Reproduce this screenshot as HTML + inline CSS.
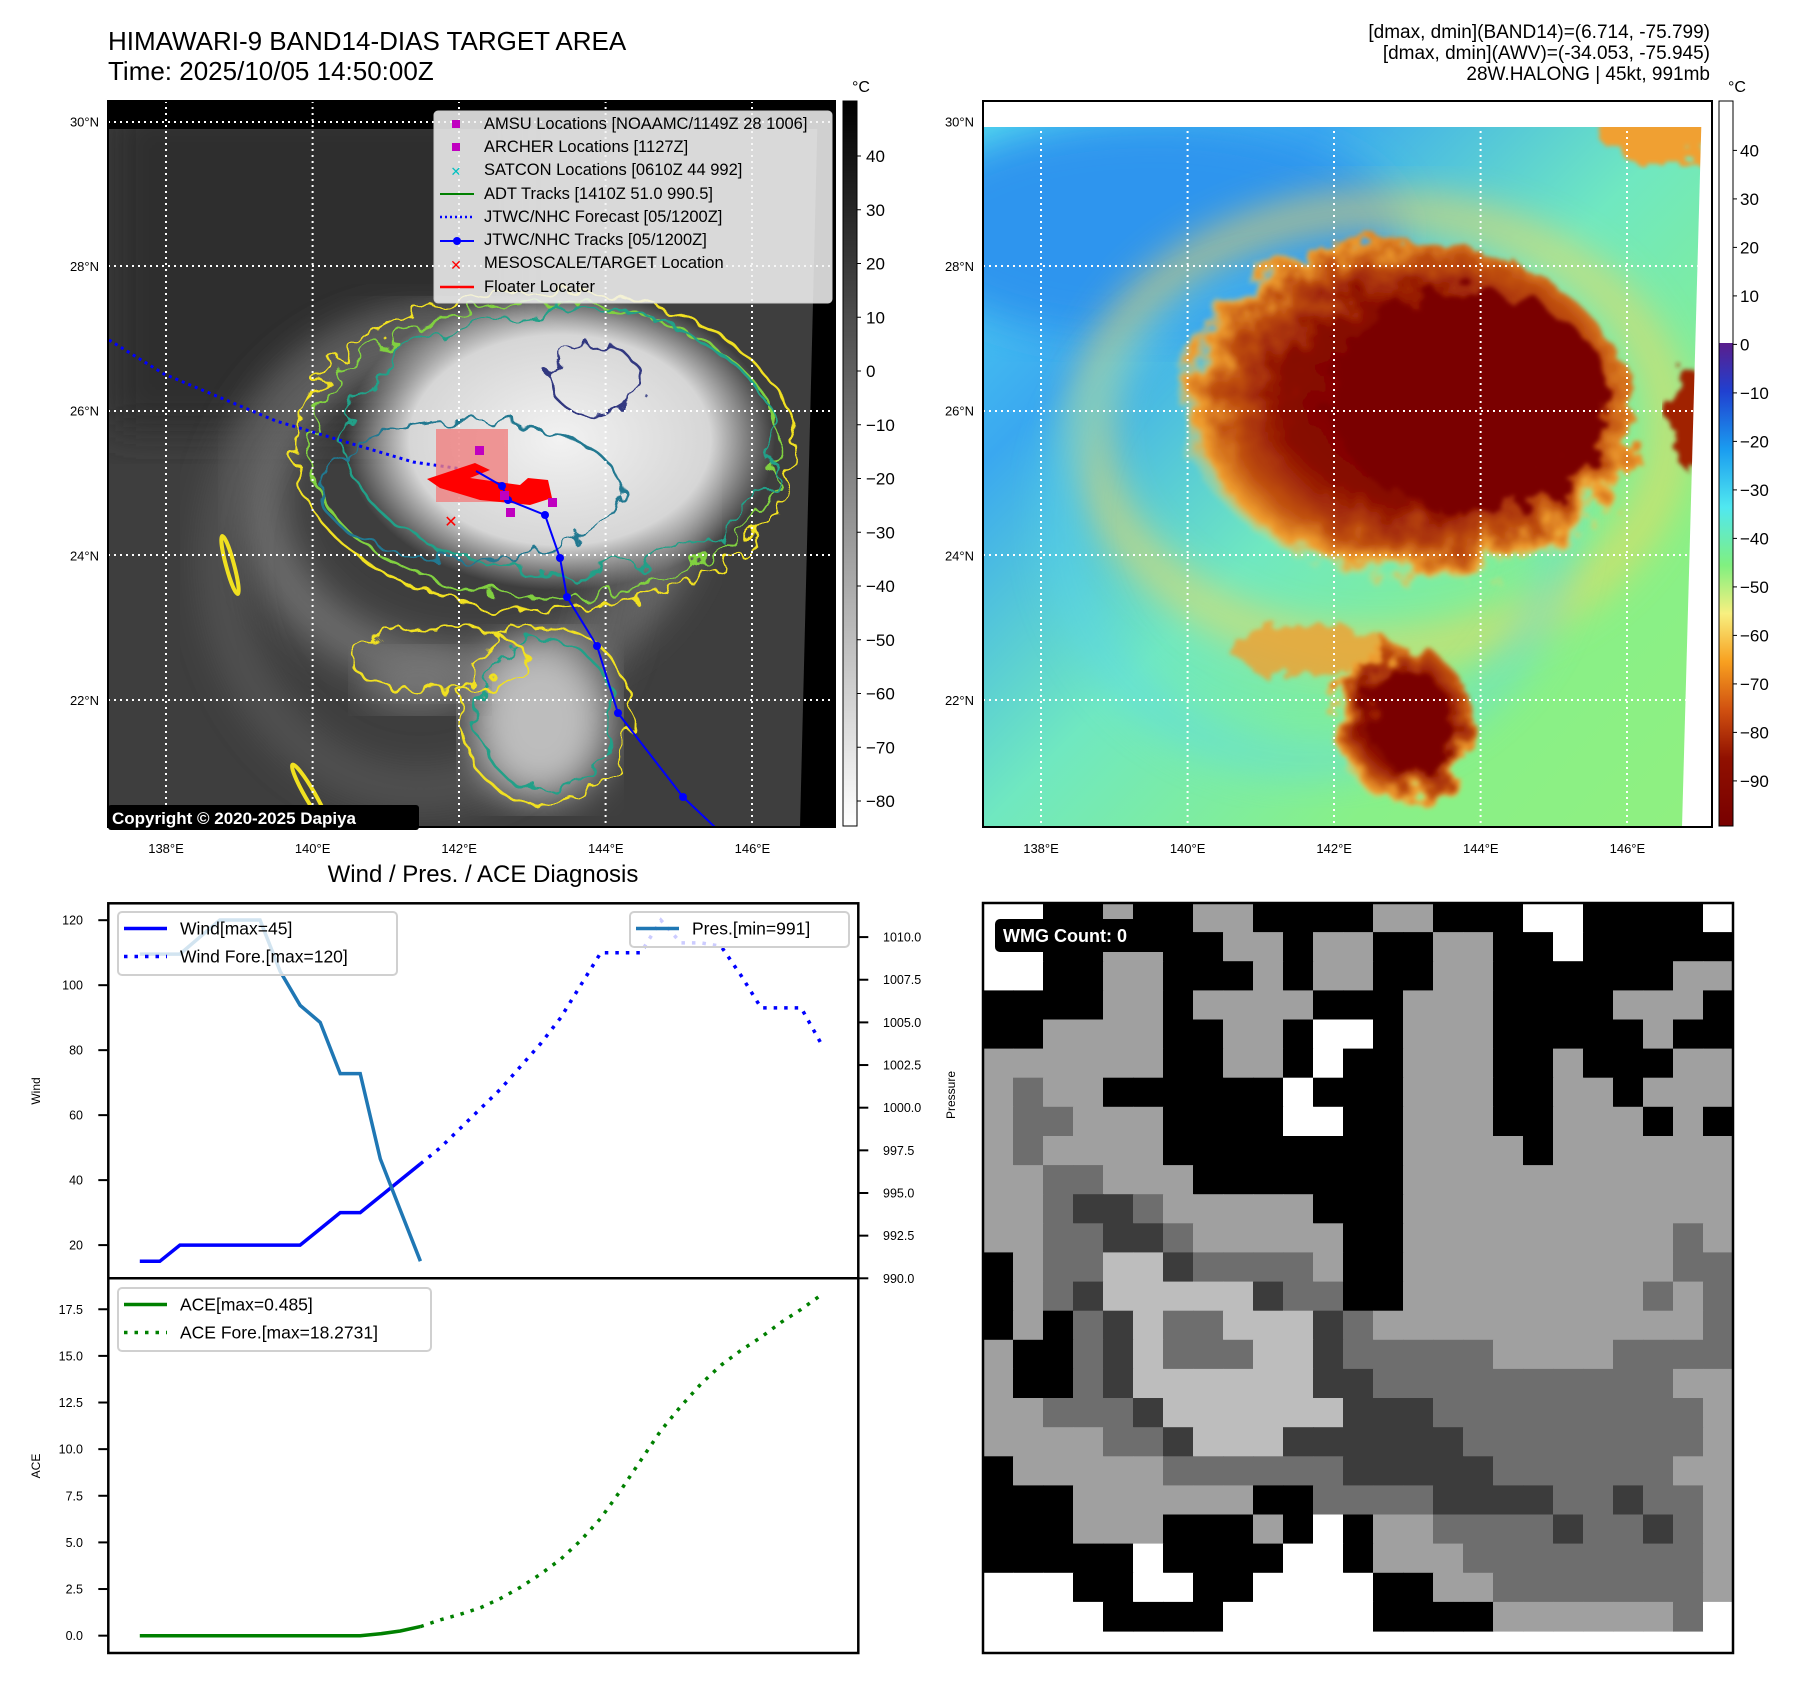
<!DOCTYPE html>
<html><head><meta charset="utf-8"><style>
body{margin:0;background:#fff;}
svg{display:block;font-family:"Liberation Sans","DejaVu Sans",sans-serif;}
</style></head><body>
<svg id="root" width="1801" height="1690" viewBox="0 0 1801 1690" xmlns="http://www.w3.org/2000/svg">
<defs>
  <filter id="blur8"><feGaussianBlur stdDeviation="8"/></filter>
  <filter id="blur20"><feGaussianBlur stdDeviation="20"/></filter>
  <filter id="wavy" x="-20%" y="-20%" width="140%" height="140%"><feTurbulence type="fractalNoise" baseFrequency="0.05" numOctaves="2" seed="3"/><feDisplacementMap in="SourceGraphic" scale="28"/></filter>
  <filter id="wavy2" x="-20%" y="-20%" width="140%" height="140%"><feTurbulence type="fractalNoise" baseFrequency="0.03" numOctaves="3" seed="7"/><feDisplacementMap in="SourceGraphic" scale="40"/></filter>
  <filter id="rough" x="-20%" y="-20%" width="140%" height="140%"><feTurbulence type="fractalNoise" baseFrequency="0.04" numOctaves="3" seed="11"/><feDisplacementMap in="SourceGraphic" scale="50"/><feGaussianBlur stdDeviation="2"/></filter>
  <linearGradient id="bwbar" x1="0" y1="0" x2="0" y2="1"><stop offset="0" stop-color="#000"/><stop offset="1" stop-color="#fff"/></linearGradient>
  <linearGradient id="jetbar" x1="0" y1="0" x2="0" y2="1">
    <stop offset="0" stop-color="#5a1e8c"/><stop offset="0.1" stop-color="#2040d0"/><stop offset="0.22" stop-color="#1a9cf0"/><stop offset="0.34" stop-color="#50e8f0"/><stop offset="0.46" stop-color="#80f080"/><stop offset="0.56" stop-color="#f8f080"/><stop offset="0.66" stop-color="#f8a020"/><stop offset="0.76" stop-color="#d05010"/><stop offset="0.86" stop-color="#901000"/><stop offset="1" stop-color="#780000"/>
  </linearGradient>
  <linearGradient id="irbg" x1="0" y1="0" x2="1" y2="1"><stop offset="0" stop-color="#55ddee"/><stop offset="0.25" stop-color="#3aa8f0"/><stop offset="0.5" stop-color="#70e8c0"/><stop offset="0.75" stop-color="#88f088"/><stop offset="1" stop-color="#90f080"/></linearGradient>
  <radialGradient id="cloudW" cx="0.5" cy="0.5" r="0.5"><stop offset="0" stop-color="#f2f2f2"/><stop offset="0.7" stop-color="#d6d6d6"/><stop offset="1" stop-color="#d0d0d0" stop-opacity="0"/></radialGradient>
  <radialGradient id="cloudR" cx="0.55" cy="0.45" r="0.5"><stop offset="0" stop-color="#7a0000"/><stop offset="0.55" stop-color="#880800"/><stop offset="0.8" stop-color="#c05010"/><stop offset="0.93" stop-color="#f0a030"/><stop offset="1" stop-color="#f8e070" stop-opacity="0"/></radialGradient>
  <clipPath id="clipL"><rect x="108" y="101" width="727" height="726"/></clipPath>
  <clipPath id="clipR"><rect x="983" y="101" width="729" height="726"/></clipPath>
</defs>

<!-- Titles -->
<text x="108" y="50" font-size="26" fill="#000">HIMAWARI-9 BAND14-DIAS TARGET AREA</text>
<text x="108" y="80" font-size="26" fill="#000">Time: 2025/10/05 14:50:00Z</text>
<g font-size="19" text-anchor="end" fill="#000">
<text x="1710" y="38">[dmax, dmin](BAND14)=(6.714, -75.799)</text>
<text x="1710" y="59">[dmax, dmin](AWV)=(-34.053, -75.945)</text>
<text x="1710" y="80">28W.HALONG | 45kt, 991mb</text>
</g>

<!-- LEFT MAP -->
<g>
<g clip-path="url(#clipL)">
  <rect x="108" y="101" width="727" height="726" fill="#3e3e3e"/>
  <rect x="108" y="101" width="400" height="330" fill="#2e2e2e" filter="url(#blur20)"/>
  <ellipse cx="470" cy="500" rx="210" ry="170" fill="none" stroke="#767676" stroke-width="40" filter="url(#blur20)"/>
  <ellipse cx="420" cy="560" rx="200" ry="230" fill="none" stroke="#5a5a5a" stroke-width="30" filter="url(#blur20)"/>
  <ellipse cx="560" cy="440" rx="215" ry="150" fill="url(#cloudW)"/>
  <ellipse cx="540" cy="720" rx="70" ry="80" fill="#bdbdbd" filter="url(#blur20)"/>
  <ellipse cx="420" cy="680" rx="60" ry="30" fill="#777" filter="url(#blur20)"/>
  <g fill="none" stroke-width="2.5">
    <ellipse cx="545" cy="450" rx="250" ry="160" stroke="#f0e020" filter="url(#wavy)"/>
    <ellipse cx="545" cy="450" rx="235" ry="148" stroke="#80d040" filter="url(#wavy)"/>
    <ellipse cx="560" cy="440" rx="215" ry="130" stroke="#20a088" filter="url(#wavy2)"/>
    <ellipse cx="470" cy="490" rx="150" ry="70" stroke="#207890" filter="url(#wavy)"/>
    <ellipse cx="595" cy="380" rx="45" ry="35" stroke="#303880" filter="url(#wavy)"/>
    <ellipse cx="545" cy="715" rx="85" ry="90" stroke="#f0e020" filter="url(#wavy)"/>
    <ellipse cx="545" cy="715" rx="68" ry="75" stroke="#20a088" filter="url(#wavy)"/>
    <ellipse cx="440" cy="660" rx="90" ry="30" stroke="#f0e020" filter="url(#wavy)"/>
    <ellipse cx="230" cy="565" rx="4" ry="30" stroke="#f0e020" stroke-width="4" transform="rotate(-15 230 565)"/>
    <ellipse cx="310" cy="795" rx="5" ry="35" stroke="#f0e020" stroke-width="4" transform="rotate(-30 310 795)"/>
  </g>
  <rect x="108" y="101" width="727" height="28" fill="#000"/>
  <polygon points="818,101 835,101 835,827 800,827" fill="#000"/>
</g>
<g stroke="#fff" stroke-width="2" stroke-dasharray="2,4">
  <line x1="166" y1="101" x2="166" y2="827"/><line x1="312.6" y1="101" x2="312.6" y2="827"/><line x1="459" y1="101" x2="459" y2="827"/><line x1="605.6" y1="101" x2="605.6" y2="827"/><line x1="752" y1="101" x2="752" y2="827"/>
  <line x1="108" y1="122" x2="835" y2="122"/><line x1="108" y1="266" x2="835" y2="266"/><line x1="108" y1="411" x2="835" y2="411"/><line x1="108" y1="555" x2="835" y2="555"/><line x1="108" y1="700" x2="835" y2="700"/>
</g>
<g clip-path="url(#clipL)">
  <polyline points="109,340 164,374 276,421 413,462 476,471" fill="none" stroke="#0000ff" stroke-width="3" stroke-dasharray="3,4"/>
  <rect x="436" y="429" width="72" height="73" fill="#f08080" opacity="0.8"/>
  <polygon points="427,479 475,463 490,470 470,478 520,485 528,478 548,480 552,498 530,505 480,500 440,488" fill="#ff0000"/>
  <polyline points="476,471 502,486 508,500 545,515 560,558 567,597 597,646 618,713 683,797 718,830" fill="none" stroke="#0000ff" stroke-width="2"/>
  <g fill="#0000ff"><circle cx="502" cy="486" r="4"/><circle cx="508" cy="500" r="4"/><circle cx="545" cy="515" r="4"/><circle cx="560" cy="558" r="4"/><circle cx="567" cy="597" r="4"/><circle cx="597" cy="646" r="4"/><circle cx="618" cy="713" r="4"/><circle cx="683" cy="797" r="4"/></g>
  <g fill="#c000c0"><rect x="475" y="446" width="9" height="9"/><rect x="500" y="491" width="9" height="9"/><rect x="506" y="508" width="9" height="9"/><rect x="548" y="498" width="9" height="9"/></g>
  <text x="451" y="527" font-size="16" font-weight="bold" fill="#ff0000" text-anchor="middle">✕</text>
</g>
<rect x="108" y="101" width="727" height="726" fill="none" stroke="#000" stroke-width="2"/>
<!-- legend -->
<g>
  <rect x="434" y="111" width="398" height="192" rx="4" fill="#f4f4f4" fill-opacity="0.85" stroke="#ccc"/>
  <g font-size="16.5" fill="#000">
  <rect x="452" y="120" width="8" height="8" fill="#c000c0"/><text x="484" y="129">AMSU Locations [NOAAMC/1149Z 28 1006]</text>
  <rect x="452" y="143" width="8" height="8" fill="#c000c0"/><text x="484" y="152">ARCHER Locations [1127Z]</text>
  <text x="456" y="176" fill="#00c0c0" font-size="13" font-weight="bold" text-anchor="middle">✕</text><text x="484" y="175">SATCON Locations [0610Z 44 992]</text>
  <line x1="440" y1="194" x2="474" y2="194" stroke="#008000" stroke-width="2"/><text x="484" y="199">ADT Tracks [1410Z 51.0 990.5]</text>
  <line x1="440" y1="217" x2="474" y2="217" stroke="#0000ff" stroke-width="2.5" stroke-dasharray="2,3"/><text x="484" y="222">JTWC/NHC Forecast [05/1200Z]</text>
  <line x1="440" y1="241" x2="474" y2="241" stroke="#0000ff" stroke-width="2"/><circle cx="457" cy="241" r="4" fill="#0000ff"/><text x="484" y="245">JTWC/NHC Tracks [05/1200Z]</text>
  <text x="456" y="270" fill="#ff0000" font-size="14" font-weight="bold" text-anchor="middle">✕</text><text x="484" y="268">MESOSCALE/TARGET Location</text>
  <line x1="440" y1="287" x2="474" y2="287" stroke="#ff0000" stroke-width="2.5"/><text x="484" y="292">Floater Locater</text>
  </g>
</g>
<g><rect x="108" y="805" width="311" height="25" rx="3" fill="#000"/><text x="112" y="824" font-size="17" font-weight="bold" fill="#fff">Copyright © 2020-2025 Dapiya</text></g>
<rect x="843" y="101" width="14" height="725" fill="url(#bwbar)" stroke="#000" stroke-width="1"/>
</g>

<!-- RIGHT MAP -->
<g>
<g clip-path="url(#clipR)">
  <rect x="983" y="101" width="729" height="726" fill="url(#irbg)"/>
  <ellipse cx="1150" cy="230" rx="250" ry="110" fill="#2f95ee" filter="url(#blur20)"/>
  <ellipse cx="1380" cy="430" rx="290" ry="220" fill="none" stroke="#f0d860" stroke-width="30" filter="url(#blur20)" opacity="0.8"/>
  <ellipse cx="1310" cy="520" rx="250" ry="240" fill="none" stroke="#58d8f0" stroke-width="25" filter="url(#blur20)" opacity="0.6"/>
  <ellipse cx="1395" cy="420" rx="240" ry="180" fill="url(#cloudR)" filter="url(#rough)"/>
  <ellipse cx="1470" cy="400" rx="140" ry="110" fill="#7a0000" filter="url(#rough)"/>
  <ellipse cx="1400" cy="730" rx="75" ry="85" fill="url(#cloudR)" filter="url(#rough)"/>
  <ellipse cx="1410" cy="720" rx="40" ry="50" fill="#7a0000" filter="url(#rough)"/>
  <ellipse cx="1310" cy="650" rx="80" ry="25" fill="#f0a030" filter="url(#rough)" opacity="0.8"/>
  <ellipse cx="1690" cy="420" rx="20" ry="50" fill="#a02000" filter="url(#rough)"/>
  <ellipse cx="1660" cy="135" rx="60" ry="25" fill="#f0a030" filter="url(#rough)"/>
  <rect x="983" y="101" width="729" height="26" fill="#fff"/>
  <polygon points="1702,101 1712,101 1712,827 1682,827" fill="#fff"/>
</g>
<g stroke="#fff" stroke-width="2" stroke-dasharray="2,4">
  <line x1="1041" y1="101" x2="1041" y2="827"/><line x1="1187.6" y1="101" x2="1187.6" y2="827"/><line x1="1334" y1="101" x2="1334" y2="827"/><line x1="1480.6" y1="101" x2="1480.6" y2="827"/><line x1="1627" y1="101" x2="1627" y2="827"/>
  <line x1="983" y1="266" x2="1712" y2="266"/><line x1="983" y1="411" x2="1712" y2="411"/><line x1="983" y1="555" x2="1712" y2="555"/><line x1="983" y1="700" x2="1712" y2="700"/>
</g>
<rect x="983" y="101" width="729" height="726" fill="none" stroke="#000" stroke-width="2"/>
<rect x="1719" y="101" width="14" height="242" fill="#fff" stroke="none"/>
<rect x="1719" y="343" width="14" height="483" fill="url(#jetbar)"/>
<rect x="1719" y="101" width="14" height="725" fill="none" stroke="#000" stroke-width="1"/>
</g>

<g id="mapTicks" font-size="13" fill="#000"></g>

<!-- Bottom-left chart -->
<g id="chart"></g>

<!-- Bottom-right WMG -->
<g id="wmg"></g>
</svg>
<script>
// ---- chart data ----
const windObs = [15,15,20,20,20,20,20,20,20,25,30,30,35,40,45];
const windFcst = [45,50,56,62,68,75,82,90,100,110,110,110,120,113,113,112,103,93,93,93,82];
const presObs = [1009,1009,1009,1010,1011,1011,1011,1008,1006,1005,1002,1002,997,994,991];
const aceObs = [0,0,0,0,0,0,0,0,0,0,0,0,0.1,0.25,0.485];
const aceFcst = [0.485,0.85,1.15,1.5,2.0,2.6,3.3,4.1,5.1,6.3,7.8,9.4,11.0,12.3,13.5,14.5,15.3,16.0,16.8,17.5,18.27];
const windTicks = [20,40,60,80,100,120];
const presTicks = [990,992.5,995,997.5,1000,1002.5,1005,1007.5,1010];
const aceTicks = [0,2.5,5,7.5,10,12.5,15,17.5];
const colorbarLeftTicks = [40,30,20,10,0,-10,-20,-30,-40,-50,-60,-70,-80];
const colorbarRightTicks = [40,30,20,10,0,-10,-20,-30,-40,-50,-60,-70,-80,-90];
const lonTicks = [138,140,142,144,146];
const latTicks = [30,28,26,24,22];

const NS = "http://www.w3.org/2000/svg";
function mk(parent, tag, attrs, txt){const e=document.createElementNS(NS,tag);for(const k in attrs)e.setAttribute(k,attrs[k]);if(txt!==undefined)e.textContent=txt;parent.appendChild(e);return e;}

const L=108.3,R=858.3,T1=903.3,B1=1278.3,T2=1278.3,B2=1653;
const xmin=-1.57,xmax=35.85;
const X=i=>L+(i-xmin)/(xmax-xmin)*(R-L);
const Yw=v=>B1-(v-9.78)/(125.2-9.78)*(B1-T1);
const Yp=v=>B1-(v-990)/(1011.98-990)*(B1-T1);
const Ya=v=>B2-(v+0.93)/(19.16+0.93)*(B2-T2);
const chart=document.getElementById('chart');

let e;
e=mk(chart,'text',{x:483,y:882,'font-size':24,'text-anchor':'middle'},'Wind / Pres. / ACE Diagnosis');

function pts(arr,off,Y){return arr.map((v,i)=>X(i+off).toFixed(1)+','+Y(v).toFixed(1)).join(' ');}
const oN=windObs.length-1;
e=mk(chart,'polyline',{points:pts(windObs,0,Yw),fill:'none',stroke:'#0000ff','stroke-width':3.5});


e=mk(chart,'polyline',{points:pts(windFcst,oN,Yw),fill:'none',stroke:'#0000ff','stroke-width':3.5,'stroke-dasharray':'3.5,7'});


e=mk(chart,'polyline',{points:pts(presObs,0,Yp),fill:'none',stroke:'#1f77b4','stroke-width':3.5});


e=mk(chart,'polyline',{points:pts(aceObs,0,Ya),fill:'none',stroke:'#008000','stroke-width':3.5});


e=mk(chart,'polyline',{points:pts(aceFcst,oN,Ya),fill:'none',stroke:'#008000','stroke-width':3.5,'stroke-dasharray':'3.5,7'});



mk(chart,'rect',{x:L,y:T1,width:R-L,height:B2-T1,fill:'none',stroke:'#000','stroke-width':2.5});
mk(chart,'line',{x1:L,y1:B1,x2:R,y2:B1,stroke:'#000','stroke-width':2.5});
windTicks.forEach(v=>{const y=Yw(v);mk(chart,'line',{x1:L-10,y1:y,x2:L,y2:y,stroke:'#000','stroke-width':2});const t=mk(chart,'text',{x:83,y:y+4.5,'font-size':12.5,'text-anchor':'end'},String(v));});
presTicks.forEach(v=>{const y=Yp(v);mk(chart,'line',{x1:R,y1:y,x2:R+10,y2:y,stroke:'#000','stroke-width':2});const t=mk(chart,'text',{x:883,y:y+4.5,'font-size':12.5},v.toFixed(1));});
aceTicks.forEach(v=>{const y=Ya(v);mk(chart,'line',{x1:L-10,y1:y,x2:L,y2:y,stroke:'#000','stroke-width':2});const t=mk(chart,'text',{x:83,y:y+4.5,'font-size':12.5,'text-anchor':'end'},v.toFixed(1));});
e=mk(chart,'text',{x:0,y:0,'font-size':12,'text-anchor':'middle',transform:'translate(40,1091) rotate(-90)'},'Wind');

e=mk(chart,'text',{x:0,y:0,'font-size':12,'text-anchor':'middle',transform:'translate(40,1466) rotate(-90)'},'ACE');

e=mk(chart,'text',{x:0,y:0,'font-size':12,'text-anchor':'middle',transform:'translate(955,1095) rotate(-90)'},'Pressure');

function legend(x,y,w,h,items,name){const g=mk(chart,'g',{});
 mk(g,'rect',{x:x,y:y,width:w,height:h,rx:4,fill:'#fff','fill-opacity':0.8,stroke:'#d0d0d0','stroke-width':2});
 items.forEach((it,k)=>{const cy=y+16.5+k*28;mk(g,'line',{x1:x+6,y1:cy,x2:x+49,y2:cy,stroke:it.c,'stroke-width':3.5,'stroke-dasharray':it.d||'none'});mk(g,'text',{x:x+62,y:cy+6,'font-size':17.5},it.t);});}
legend(118,912,279,63,[{c:'#0000ff',t:'Wind[max=45]'},{c:'#0000ff',d:'3.5,7',t:'Wind Fore.[max=120]'}],'wind-legend');
legend(630,912,219,35,[{c:'#1f77b4',t:'Pres.[min=991]'}],'pressure-legend');
legend(118,1288,313,63,[{c:'#008000',t:'ACE[max=0.485]'},{c:'#008000',d:'3.5,7',t:'ACE Fore.[max=18.2731]'}],'ace-legend');

const mt=document.getElementById('mapTicks');
const lonX=lon=>166+(lon-138)*73.3;
const latY=lat=>122+(30-lat)*72.3;
[0,875].forEach(off=>{
 lonTicks.forEach(l=>{const t=mk(mt,'text',{x:lonX(l)+off,y:853,'text-anchor':'middle'},l+'°E');});
 latTicks.forEach(l=>{const t=mk(mt,'text',{x:99+off,y:latY(l)+4.5,'text-anchor':'end'},l+'°N');});
});
colorbarLeftTicks.forEach((v,k)=>{const y=156+k*53.75;mk(mt,'line',{x1:857,y1:y,x2:861,y2:y,stroke:'#000'});const t=mk(mt,'text',{x:866,y:y+6,'font-size':17},String(v).replace('-','−'));});
colorbarRightTicks.forEach((v,k)=>{const y=150.4+k*48.5;mk(mt,'line',{x1:1733,y1:y,x2:1737,y2:y,stroke:'#000'});const t=mk(mt,'text',{x:1740,y:y+6,'font-size':17},String(v).replace('-','−'));});
mk(mt,'text',{x:852,y:92,'font-size':16},'°C');
mk(mt,'text',{x:1728,y:92,'font-size':16},'°C');

const wmgRows=[
"WWBBLBBLLBBBBLLBBBWWBBBBW",
"WWBBLLBBLLBLLBBLLBBWBBBBB",
"WWBBLLBBBLBLLBBLLBBBBBBLL",
"BBBBLLBLLLLBBBLLLBBBBLLLB",
"BBLLLLBBLLBWWBLLLBBBBBLBB",
"LLLLLLBBLLBWBBLLLBBLBBBLL",
"LMLLBBBBBBWBBBLLLBBLLBLLL",
"LMMLLLBBBBWWBBLLLBBLLLBLB",
"LMLLLLBBBBBBBBLLLLBLLLLLL",
"LLMMLLLBBBBBBBLLLLLLLLLLL",
"LLMDDMLLLLLBBBLLLLLLLLLLL",
"LLMMDDMLLLLLBBLLLLLLLLLML",
"BLMMPPDMMMMLBBLLLLLLLLLMM",
"BLMDPPPPPDMMBBLLLLLLLLMLM",
"BLBMDPMMPPPDMLLLLLLLLLLLM",
"LBBMDPMMMPPDMMMMMLLLLMMMM",
"LBBMDPPPPPPDDMMMMMMMMMMLL",
"LLMMMDPPPPPPDDDMMMMMMMMML",
"LLLLMMDPPPDDDDDDMMMMMMMML",
"BLLLLLMMMMMMDDDDDMMMMMMLL",
"BBBLLLLLLBBMMMMDDDDMMDMML",
"BBBLLLBBBLBWBLLMMMMDMMDML",
"BBBBBWBBBBWWBLLLMMMMMMMML",
"WWWBBWWBBWWWWBBLLMMMMMMML",
"WWWWBBBBWWWWWBBBBLLLLLLMW"];
const wcol={W:'#ffffff',B:'#000000',L:'#a0a0a0',M:'#6e6e6e',D:'#3c3c3c',P:'#bdbdbd'};
const wmg=document.getElementById('wmg');
const WX=983,WY=903,WW=750,WH=750,cw=WW/25,ch=(WH-22)/25;
wmgRows.forEach((row,r)=>{[...row].forEach((c,k)=>{mk(wmg,'rect',{x:(WX+k*cw).toFixed(1),y:(WY+r*ch).toFixed(1),width:(cw+0.6).toFixed(1),height:(ch+0.6).toFixed(1),fill:wcol[c]});});});
mk(wmg,'rect',{x:WX,y:WY,width:WW,height:WH,fill:'none',stroke:'#000','stroke-width':2.5});
e=mk(wmg,'rect',{x:995,y:919,width:175,height:33,rx:5,fill:'#000'});

e=mk(wmg,'text',{x:1003,y:942,'font-size':18,'font-weight':'bold',fill:'#fff'},'WMG Count: 0');

</script>
</body></html>
